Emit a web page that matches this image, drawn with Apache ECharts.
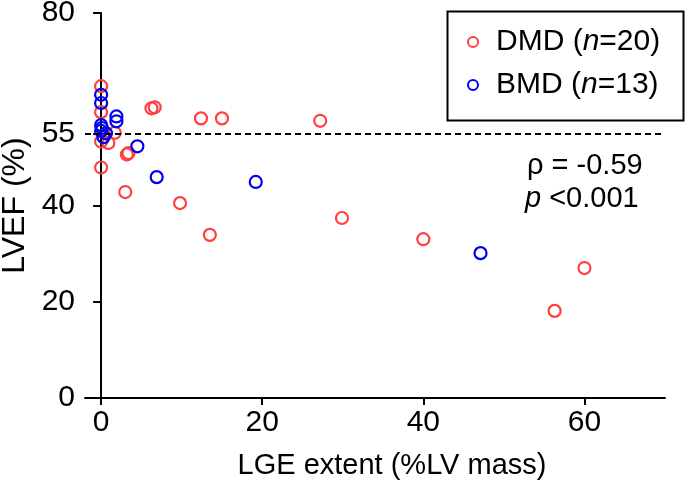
<!DOCTYPE html>
<html>
<head>
<meta charset="utf-8">
<script src="https://cdn.jsdelivr.net/npm/echarts@6/dist/echarts.min.js"></script>
<style>html,body{margin:0;padding:0;background:#fff;}#c{width:685px;height:480px;}</style>
</head>
<body>
<div id="c"></div>
<script>
// ---- data ----
var dmdX = [0, 0, 6.25, 6.65, 12.4, 15.0, 27.2, 1.7, 0, 0.9, 3.2, 3.4, 0, 3.0, 9.8, 13.5, 29.9, 40.0, 60.0, 56.3];
var dmdY = [64.8, 59.4, 60.2, 60.4, 58.1, 58.1, 57.6, 55.1, 53.3, 53.0, 50.6, 50.9, 47.9, 42.8, 40.5, 33.9, 37.4, 33.0, 27.0, 18.1];
var bmdX = [0, 0, 1.9, 1.9, 0, 0.1, 0, 0.6, 0.3, 4.5, 6.9, 19.2, 47.1];
var bmdY = [63.0, 61.3, 58.5, 57.5, 56.7, 56.1, 55.5, 55.0, 54.2, 52.3, 45.9, 44.9, 30.1];
var xTicks = [0, 20, 40, 60];
var yTicks = [0, 20, 40, 55, 80];
var refLineY = 55;
var seriesNames = ['DMD', 'BMD'];
var seriesN = [20, 13];
var rhoText = 'ρ = -0.59';
var pText = '<0.001';

var RED = '#ff4040', BLUE = '#0000f0';
var FONT = '"Liberation Sans", Arial, sans-serif';

function pairs(xs, ys) { return xs.map(function (x, i) { return [x, ys[i]]; }); }

var chart = echarts.init(document.getElementById('c'), null, { renderer: 'canvas' });
chart.setOption({
  animation: false,
  backgroundColor: '#fff',
  textStyle: { fontFamily: FONT, color: '#000' },
  grid: { left: 85, right: 20, top: 13, bottom: 82, containLabel: false, outerBoundsMode: 'none' },
  xAxis: {
    type: 'value', min: -2, max: 70,
    name: 'LGE extent (%LV mass)', nameLocation: 'middle', nameGap: 53,
    nameTextStyle: { fontSize: 29, color: '#000', fontFamily: FONT, padding: [0, 0, 0, 34] },
    axisLine: { show: true, lineStyle: { color: '#000', width: 2 } },
    axisTick: { show: true, length: 7, lineStyle: { color: '#000', width: 2 }, customValues: xTicks },
    axisLabel: { fontSize: 30, color: '#000', margin: 10, fontFamily: FONT, customValues: xTicks },
    splitLine: { show: false }
  },
  yAxis: {
    type: 'value', min: 0, max: 80,
    name: 'LVEF (%)', nameLocation: 'middle', nameGap: 52,
    nameTextStyle: { fontSize: 32, color: '#000', fontFamily: FONT },
    axisLine: { show: true, lineStyle: { color: '#000', width: 2 } },
    axisTick: { show: true, length: 8, lineStyle: { color: '#000', width: 2 }, customValues: yTicks },
    axisLabel: { fontSize: 30, color: '#000', margin: 10, fontFamily: FONT, customValues: yTicks },
    splitLine: { show: false }
  },
  legend: {
    orient: 'vertical', left: 467, top: 27, padding: 0, itemGap: 13,
    itemWidth: 10, itemHeight: 10, icon: 'circle',
    data: seriesNames,
    formatter: function (name) {
      var n = seriesN[seriesNames.indexOf(name)];
      return '{a|' + name + ' (}{i|n}{a|=' + n + ')}';
    },
    textStyle: {
      padding: [0, 0, 0, 13],
      rich: {
        a: { fontSize: 30, color: '#000', fontFamily: FONT },
        i: { fontSize: 30, color: '#000', fontFamily: FONT, fontStyle: 'italic' }
      }
    }
  },
  graphic: [
    { type: 'rect', left: 445, top: 9, shape: { width: 236, height: 109 },
      style: { fill: 'none', stroke: '#000', lineWidth: 2 }, z: 10 },
    { type: 'text', left: 527, top: 151, z: 10,
      style: { text: rhoText, font: '29px ' + FONT, fill: '#000' } },
    { type: 'text', left: 525, top: 184, z: 10,
      style: { text: '{i|p}{a| <0.001}', fill: '#000',
        rich: { i: { font: 'italic 29px ' + FONT, fill: '#000' }, a: { font: '29px ' + FONT, fill: '#000' } } } }
  ],
  series: [
    {
      name: seriesNames[0], type: 'scatter', symbol: 'circle', symbolSize: 12,
      data: pairs(dmdX, dmdY),
      itemStyle: { color: 'rgba(0,0,0,0)', borderColor: RED, borderWidth: 2.2, opacity: 1 },
      emphasis: { disabled: true },
      markLine: {
        silent: true, symbol: 'none', animation: false,
        label: { show: false },
        lineStyle: { color: '#000', type: [6, 4], width: 2 },
        data: [[{ coord: [-2, refLineY] }, { coord: [69.8, refLineY] }]]
      },
      z: 3
    },
    {
      name: seriesNames[1], type: 'scatter', symbol: 'circle', symbolSize: 12,
      data: pairs(bmdX, bmdY),
      itemStyle: { color: 'rgba(0,0,0,0)', borderColor: BLUE, borderWidth: 2.2, opacity: 1 },
      emphasis: { disabled: true },
      z: 3
    }
  ]
});
</script>
</body>
</html>
